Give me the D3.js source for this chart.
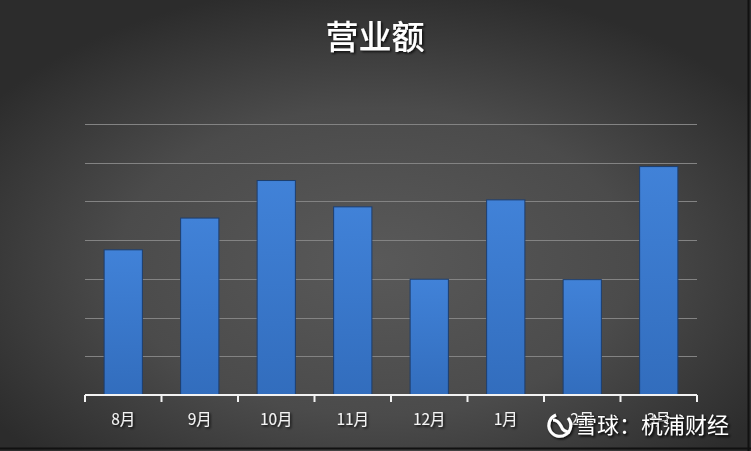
<!DOCTYPE html>
<html><head><meta charset="utf-8">
<script src="https://cdn.jsdelivr.net/npm/d3@7"></script>
<style>html,body{margin:0;padding:0;background:#333;}svg{display:block;}</style>
</head><body><svg id="c" width="751" height="451"></svg>
<script>
const categories = ["8月","9月","10月","11月","12月","1月","2月","3月"];
const revenue = [37.5, 45.7, 55.4, 48.6, 29.9, 50.4, 29.8, 59.0];
const yTicks = [0,10,20,30,40,50,60,70];
const title = "营业额";
const watermark = "雪球：杭浦财经";

(function(){
const W = 751, H = 451;
const svg = d3.select("#c");
const defs = svg.append("defs");

const bg = defs.append("radialGradient").attr("id","bg")
  .attr("cx","0.5").attr("cy","0.58").attr("r","0.62");
bg.append("stop").attr("offset","0").attr("stop-color","#595959");
bg.append("stop").attr("offset","0.55").attr("stop-color","#4b4b4b");
bg.append("stop").attr("offset","1").attr("stop-color","#2c2c2c");

const bar = defs.append("linearGradient").attr("id","bar")
  .attr("x1","0").attr("y1","0").attr("x2","0").attr("y2","1");
bar.append("stop").attr("offset","0").attr("stop-color","#4182d8");
bar.append("stop").attr("offset","1").attr("stop-color","#326dbd");

const sh = defs.append("filter").attr("id","sh").attr("x","-20%").attr("y","-20%").attr("width","140%").attr("height","160%");
sh.append("feDropShadow").attr("dx",1.5).attr("dy",1.5).attr("stdDeviation",1.2).attr("flood-color","#000").attr("flood-opacity",0.8);

svg.append("rect").attr("width",W).attr("height",H).attr("fill","url(#bg)");

const pl = 85, pr = 697, pt = 124, pb = 395;
const x = d3.scaleBand().domain(categories).range([pl,pr]).paddingInner(0.5).paddingOuter(0.25);
const y = d3.scaleLinear().domain([0,70]).range([pb,pt]);

svg.append("g").selectAll("line").data(yTicks.slice(1)).join("line")
  .attr("x1",pl).attr("x2",pr)
  .attr("y1",d=>Math.round(y(d))+0.5).attr("y2",d=>Math.round(y(d))+0.5)
  .attr("stroke","#838383").attr("stroke-width",1.2);

svg.append("g").selectAll("rect").data(revenue).join("rect")
  .attr("x",(d,i)=>x(categories[i]))
  .attr("y",d=>y(d))
  .attr("width",x.bandwidth())
  .attr("height",d=>pb-y(d))
  .attr("fill","url(#bar)")
  .attr("stroke","#1d3e6e").attr("stroke-width",1);

const xb = d3.scaleLinear().domain([0,categories.length]).range([pl,pr]);
const ax = svg.append("g");
ax.append("line").attr("x1",pl).attr("x2",pr).attr("y1",pb).attr("y2",pb)
  .attr("stroke","#f2f2f2").attr("stroke-width",2);
ax.selectAll("line.t").data(d3.range(categories.length+1)).join("line").attr("class","t")
  .attr("x1",d=>xb(d)).attr("x2",d=>xb(d)).attr("y1",pb).attr("y2",pb+7)
  .attr("stroke","#f2f2f2").attr("stroke-width",2);
ax.selectAll("text").data(categories).join("text")
  .attr("x",d=>x(d)+x.bandwidth()/2).attr("y",425)
  .attr("text-anchor","middle")
  .attr("font-family","'Noto Sans CJK SC', 'Liberation Sans', sans-serif")
  .attr("font-size",15.5).attr("fill","#f4f4f4")
  .attr("filter","url(#sh)")
  .text(d=>d);

svg.append("text").attr("x",375).attr("y",49).attr("text-anchor","middle")
  .attr("font-family","'Noto Sans CJK SC', sans-serif").attr("font-weight",500)
  .attr("font-size",33).attr("fill","#ffffff").attr("filter","url(#sh)")
  .text(title);

const wm = svg.append("g").attr("filter","url(#sh)");
wm.append("path").attr("d","M556,415 A11,11 0 1,0 568,418")
  .attr("fill","none").attr("stroke","#fff").attr("stroke-width",3);
wm.append("path").attr("d","M553,420 C558,420 560,424 561,426 C562,429 565,432 570,432")
  .attr("stroke","#fff").attr("stroke-width",3).attr("fill","none");
wm.append("text").attr("x",575).attr("y",433)
  .attr("font-family","'Noto Sans CJK SC', sans-serif")
  .attr("font-size",22).attr("fill","#ffffff")
  .attr("stroke","#222").attr("stroke-width",0.6).attr("paint-order","stroke")
  .text(watermark);

svg.append("line").attr("x1",748.5).attr("x2",748.5).attr("y1",0).attr("y2",H).attr("stroke","#111").attr("stroke-width",2);
svg.append("line").attr("x1",0).attr("x2",W).attr("y1",448.5).attr("y2",448.5).attr("stroke","#111").attr("stroke-width",2);
})();
</script></body></html>
